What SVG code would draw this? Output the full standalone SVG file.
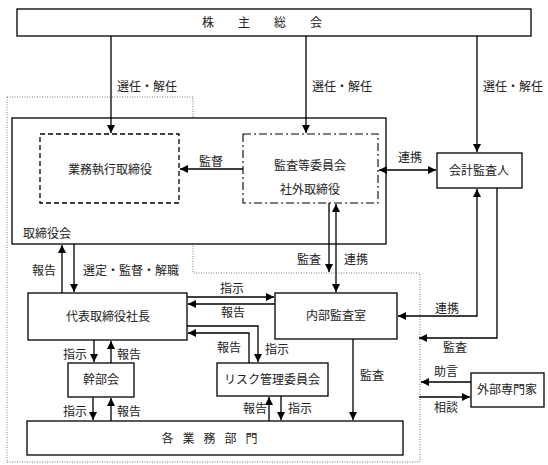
<svg xmlns="http://www.w3.org/2000/svg" width="548" height="465" viewBox="0 0 548 465">
<style>
text{font-family:"Noto Sans CJK JP","Noto Sans CJK SC",sans-serif;font-size:12px;fill:#222}
.c{text-anchor:middle}
.box{fill:#fff;stroke:#000;stroke-width:1.3}
.dash{fill:none;stroke:#000;stroke-width:1.3;stroke-dasharray:5,3}
.dashdot{fill:none;stroke:#000;stroke-width:1.1;stroke-dasharray:8,3,2,3}
.dot{fill:none;stroke:#777;stroke-width:1;stroke-dasharray:1,1.5}
.ln{fill:none;stroke:#000;stroke-width:1.3}
.a{marker-end:url(#ah)}
.b{marker-start:url(#ah);marker-end:url(#ah)}
</style>
<defs>
<marker id="ah" markerUnits="userSpaceOnUse" markerWidth="10" markerHeight="10" refX="8" refY="4" orient="auto-start-reverse">
<path d="M0,0 L8,4 L0,8 Z" fill="#000"/>
</marker>
</defs>
<polygon id="exec-area" class="dot" points="7,97 193,97 193,273 420,273 420,462 7,462"/>
<g id="shareholders"><rect class="box" x="17" y="9" width="514" height="27"/><text class="c" x="274" y="27" style="letter-spacing:24px">株主総会</text></g>
<g id="board"><rect class="box" x="12" y="118" width="374" height="126"/><text x="23" y="238">取締役会</text></g>
<g id="exec-directors"><rect class="dash" x="40" y="134" width="139" height="69"/><text class="c" x="110" y="174">業務執行取締役</text></g>
<g id="audit-committee"><rect class="dashdot" x="243" y="134" width="135" height="69"/><text class="c" x="310" y="170">監査等委員会</text><text class="c" x="310" y="194">社外取締役</text></g>
<g id="accounting-auditor"><rect class="box" x="437" y="153" width="85" height="35"/><text class="c" x="479" y="175">会計監査人</text></g>
<g id="president"><rect class="box" x="28" y="293" width="159" height="47"/><text class="c" x="108" y="321">代表取締役社長</text></g>
<g id="internal-audit"><rect class="box" x="275" y="293" width="122" height="46"/><text class="c" x="336" y="320">内部監査室</text></g>
<g id="executive-council"><rect class="box" x="68" y="363" width="66" height="34"/><text class="c" x="101" y="384">幹部会</text></g>
<g id="risk-committee"><rect class="box" x="217" y="363" width="111" height="33"/><text class="c" x="272" y="384">リスク管理委員会</text></g>
<g id="departments"><rect class="box" x="27" y="421" width="376" height="34"/><text class="c" x="214" y="443" style="letter-spacing:9px">各業務部門</text></g>
<g id="external-experts"><rect class="box" x="471" y="373" width="73" height="34"/><text class="c" x="507" y="394">外部専門家</text></g>
<g id="connectors">
<path class="ln a" d="M111,36 V133"/>
<path class="ln a" d="M306,36 V133"/>
<path class="ln a" d="M477,36 V152"/>
<path class="ln a" d="M243,169 H180"/>
<path class="ln b" d="M379,170 H436"/>
<path class="ln a" d="M329,203 V272"/>
<path class="ln b" d="M336,204 V292"/>
<path class="ln a" d="M62,293 V245"/>
<path class="ln a" d="M74,244 V292"/>
<path class="ln a" d="M187,297 H274"/>
<path class="ln a" d="M275,304 H188"/>
<path class="ln a" d="M187,326 H258 V362"/>
<path class="ln a" d="M249,363 V333 H188"/>
<path class="ln a" d="M94,340 V362"/>
<path class="ln a" d="M111,363 V341"/>
<path class="ln a" d="M93,397 V420"/>
<path class="ln a" d="M111,421 V398"/>
<path class="ln a" d="M269,421 V397"/>
<path class="ln a" d="M281,396 V420"/>
<path class="ln a" d="M353,339 V420"/>
<path class="ln b" d="M477,189 V316 H398"/>
<path class="ln a" d="M497,188 V338 H419"/>
<path class="ln a" d="M471,382 H421"/>
<path class="ln a" d="M419,397 H470"/>
</g>
<g id="labels">
<text x="117" y="91">選任・解任</text>
<text x="312" y="91">選任・解任</text>
<text x="483" y="91">選任・解任</text>
<text x="199" y="166">監督</text>
<text x="398" y="162">連携</text>
<text x="297" y="264">監査</text>
<text x="344" y="264">連携</text>
<text x="32" y="275">報告</text>
<text x="83" y="275">選定・監督・解職</text>
<text x="220" y="293">指示</text>
<text x="221" y="317">報告</text>
<text x="217" y="352">報告</text>
<text x="265" y="354">指示</text>
<text x="63" y="359">指示</text>
<text x="117" y="359">報告</text>
<text x="63" y="416">指示</text>
<text x="117" y="416">報告</text>
<text x="243" y="413">報告</text>
<text x="288" y="413">指示</text>
<text x="360" y="380">監査</text>
<text x="435" y="313">連携</text>
<text x="443" y="352">監査</text>
<text x="434" y="376">助言</text>
<text x="434" y="412">相談</text>
</g>
</svg>
